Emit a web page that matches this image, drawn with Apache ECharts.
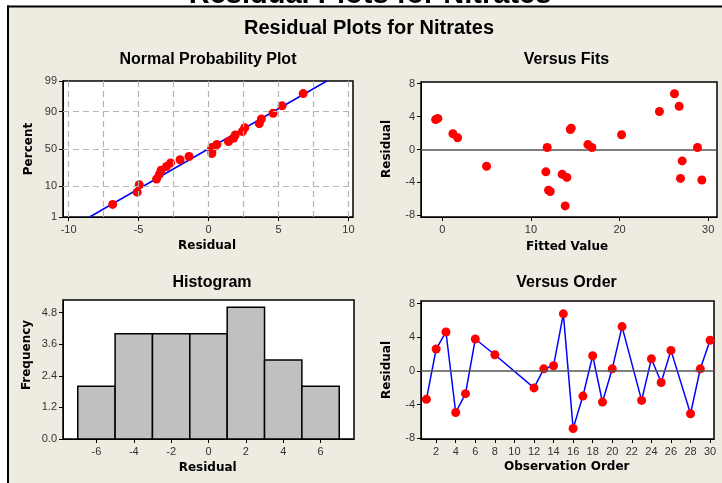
<!DOCTYPE html>
<html>
<head>
<meta charset="utf-8">
<script src="https://cdn.jsdelivr.net/npm/echarts@6.0.0/dist/echarts.min.js"></script>
<style>html,body{margin:0;padding:0;background:#fff;}#c{width:722px;height:483px;}</style>
</head>
<body>
<div id="c"></div>
<script>
// ---------------- data ----------------
const obsOrder = [1,2,3,4,5,6,8,12,13,14,15,16,17,18,19,20,21,23,24,25,26,28,29,30];
const residuals = [-3.39,2.59,4.62,-4.95,-2.71,3.78,1.91,-2.03,0.24,0.60,6.77,-6.85,-3.00,1.79,-3.71,0.24,5.26,-3.51,1.43,-1.39,2.43,-5.10,0.24,3.63];
const fittedValues = [14.06,14.55,24.5,11.99,11.69,-0.5,1.2,5.0,11.84,16.43,26.2,13.87,13.53,20.23,29.29,16.88,26.73,26.88,1.73,27.07,14.45,12.18,28.8,-0.75];
const normPercent = [2.9,7.0,11.1,15.2,19.3,23.4,27.5,31.6,35.7,39.8,43.9,48.0,52.0,56.1,60.2,64.3,68.4,72.5,76.6,80.7,84.8,88.9,93.0,97.1];
const fitLineX = [-8.5, 8.46];
const fitLinePct = [1, 99];
const histMids = [-6,-4,-2,0,2,4,6];
const histCounts = [2,4,4,4,5,3,2];
const histBinWidth = 2;

const nppXTicks = [-10,-5,0,5,10];
const nppGridX = [-10,-7.5,-5,-2.5,0,2.5,5,7.5,10];
const nppPctTicks = [1,10,50,90,99];
const nppGridPct = [10,50,90];
const fitsXTicks = [0,10,20,30];
const resTicks = [-8,-4,0,4,8];
const histXTicks = [-6,-4,-2,0,2,4,6];
const histYTicks = [0,1.2,2.4,3.6,4.8];
const orderXTicks = [2,4,6,8,10,12,14,16,18,20,22,24,26,28,30];

// ---------------- probability scale (inverse normal) ----------------
function probit(p){
  const a=[-3.969683028665376e+01,2.209460984245205e+02,-2.759285104469687e+02,1.383577518672690e+02,-3.066479806614716e+01,2.506628277459239e+00];
  const b=[-5.447609879822406e+01,1.615858368580409e+02,-1.556989798598866e+02,6.680131188771972e+01,-1.328068155288572e+01];
  const c=[-7.784894002430293e-03,-3.223964580411365e-01,-2.400758277161838e+00,-2.549671010229528e+00,4.374664141464968e+00,2.938163982699596e+00];
  const d=[7.784695709041462e-03,3.224671290700398e-01,2.445134137142996e+00,3.754408661907416e+00];
  const pl=0.02425, ph=1-pl; let q,r;
  if(p<pl){q=Math.sqrt(-2*Math.log(p));return (((((c[0]*q+c[1])*q+c[2])*q+c[3])*q+c[4])*q+c[5])/((((d[0]*q+d[1])*q+d[2])*q+d[3])*q+1);}
  if(p<=ph){q=p-0.5;r=q*q;return (((((a[0]*r+a[1])*r+a[2])*r+a[3])*r+a[4])*r+a[5])*q/(((((b[0]*r+b[1])*r+b[2])*r+b[3])*r+b[4])*r+1);}
  q=Math.sqrt(-2*Math.log(1-p));return -(((((c[0]*q+c[1])*q+c[2])*q+c[3])*q+c[4])*q+c[5])/((((d[0]*q+d[1])*q+d[2])*q+d[3])*q+1);
}
const z = pct => probit(pct/100);

// ---------------- helpers ----------------
const LABEL_FONT = 'Liberation Sans';
function axis(gridIndex, min, max, ticks, fmt, isX){
  return {
    type:'value', gridIndex, min, max,
    axisLine:{show:true, onZero:false, lineStyle:{color:'#000', width:1}},
    axisTick:{show:true, customValues:ticks, length:4, lineStyle:{color:'#000', width:1}},
    axisLabel:{show:true, customValues:ticks, formatter:fmt, color:'#333', fontFamily:LABEL_FONT, fontSize:11, margin: isX?7:6},
    splitLine:{show:false}
  };
}
const plain = v => String(Math.round(v*100)/100);
const pctFmt = v => { let best=nppPctTicks[0], bd=1e9; nppPctTicks.forEach(p=>{const dd=Math.abs(z(p)-v); if(dd<bd){bd=dd;best=p;}}); return String(best); };
const gridStyle = {show:true, backgroundColor:'#fff', borderColor:'#000', borderWidth:1.5};

function titleText(text, x, y){
  return {type:'text', x, y, z:10, style:{text, font:'bold 16px "Liberation Sans"', fill:'#000', align:'center', verticalAlign:'middle'}};
}
function axisName(text, x, y, rotated){
  return {type:'text', x, y, z:10, rotation: rotated?Math.PI/2:0, style:{text, font:'bold 12px "DejaVu Sans"', fill:'#000', align:'center', verticalAlign:'middle'}};
}
const dashLine = {color:'#b4b4b4', width:1.2, type:[6,4]};
const pointStyle = {color:'#ff0000', opacity:1};

const option = {
  backgroundColor:'#EEEBE1',
  animation:false,
  grid:[
    Object.assign({left:63, top:81, width:290, height:136}, gridStyle),
    Object.assign({left:421, top:82, width:296, height:135}, gridStyle),
    Object.assign({left:63, top:300, width:291, height:139}, gridStyle),
    Object.assign({left:421, top:301, width:293, height:138}, gridStyle)
  ],
  xAxis:[
    axis(0, -10.4, 10.33, nppXTicks, plain, true),
    axis(1, -2.4, 31.0, fitsXTicks, plain, true),
    axis(2, -7.79, 7.79, histXTicks, plain, true),
    axis(3, 0.45, 30.4, orderXTicks, plain, true)
  ],
  yAxis:[
    axis(0, z(1), z(99), nppPctTicks.map(z), pctFmt, false),
    axis(1, -8.2, 8.2, resTicks, plain, false),
    axis(2, 0, 5.28, histYTicks, v=>v.toFixed(1), false),
    axis(3, -8.1, 8.3, resTicks, plain, false)
  ],
  graphic:[
    {type:'rect', z:5, shape:{x:0,y:0,width:722,height:5.5}, style:{fill:'#fff'}},
    {type:'rect', z:5, shape:{x:0,y:0,width:7,height:483}, style:{fill:'#fff'}},
    {type:'text', x:370, y:-5, z:7, style:{text:'Residual Plots for Nitrates', font:'bold 29px "Liberation Sans"', fill:'#000', align:'center', verticalAlign:'middle'}},
    {type:'line', z:8, shape:{x1:7,y1:6.5,x2:722,y2:6.5}, style:{stroke:'#000', lineWidth:2}},
    {type:'line', z:8, shape:{x1:8,y1:5.5,x2:8,y2:483}, style:{stroke:'#000', lineWidth:2}},
    {type:'text', x:369, y:28, z:10, style:{text:'Residual Plots for Nitrates', font:'bold 20px "Liberation Sans"', fill:'#000', align:'center', verticalAlign:'middle'}},
    titleText('Normal Probability Plot', 208, 60),
    titleText('Versus Fits', 566.5, 60),
    titleText('Histogram', 212, 282.5),
    titleText('Versus Order', 566.5, 282.5),
    axisName('Residual', 207, 246, false),
    axisName('Percent', 29.3, 149, true),
    axisName('Fitted Value', 567, 246.5, false),
    axisName('Residual', 387.3, 149, true),
    axisName('Residual', 207.7, 467.5, false),
    axisName('Frequency', 26.7, 355, true),
    axisName('Observation Order', 566.7, 467, false),
    axisName('Residual', 387.3, 370, true)
  ],
  series:[
    // Normal probability plot: fitted line + dashed grid
    {type:'line', xAxisIndex:0, yAxisIndex:0, z:2, symbol:'none',
     data: fitLineX.map((x,i)=>[x, z(fitLinePct[i])]),
     lineStyle:{color:'#0000ff', width:1.5},
     markLine:{silent:true, symbol:'none', label:{show:false}, animation:false, lineStyle:dashLine,
       data: nppGridX.map(v=>({xAxis:v})).concat(nppGridPct.map(p=>({yAxis:z(p)})))}},
    {type:'scatter', xAxisIndex:0, yAxisIndex:0, z:3, symbol:'circle', symbolSize:9,
     itemStyle:pointStyle,
     data: residuals.slice().sort((a,b)=>a-b).map((r,i)=>[r, z(normPercent[i])])},
    // Versus fits
    {type:'scatter', xAxisIndex:1, yAxisIndex:1, z:3, symbol:'circle', symbolSize:9,
     itemStyle:pointStyle,
     data: fittedValues.map((f,i)=>[f, residuals[i]]),
     markLine:{silent:true, symbol:'none', label:{show:false}, animation:false, z:1,
       lineStyle:{color:'#555', width:1.5, type:'solid'}, data:[{yAxis:0}]}},
    // Histogram
    {type:'custom', xAxisIndex:2, yAxisIndex:2, z:2,
     data: histMids.map((m,i)=>[m-histBinWidth/2, m+histBinWidth/2, histCounts[i]]),
     encode:{x:[0,1], y:2},
     renderItem:function(params, api){
       const p0 = api.coord([api.value(0), 0]);
       const p1 = api.coord([api.value(1), api.value(2)]);
       return {type:'rect', shape:{x:p0[0], y:p1[1], width:p1[0]-p0[0], height:p0[1]-p1[1]},
               style:{fill:'#c0c0c0', stroke:'#000', lineWidth:1.5}};
     }},
    // Versus order
    {type:'line', xAxisIndex:3, yAxisIndex:3, z:3, symbol:'circle', symbolSize:9, showAllSymbol:true,
     itemStyle:pointStyle, lineStyle:{color:'#0000ff', width:1.5},
     data: obsOrder.map((o,i)=>[o, residuals[i]]),
     markLine:{silent:true, symbol:'none', label:{show:false}, animation:false,
       lineStyle:{color:'#555', width:1.5, type:'solid'}, data:[{yAxis:0}]}}
  ]
};
const chart = echarts.init(document.getElementById('c'), null, {renderer:'canvas'});
chart.setOption(option);
</script>
</body>
</html>
